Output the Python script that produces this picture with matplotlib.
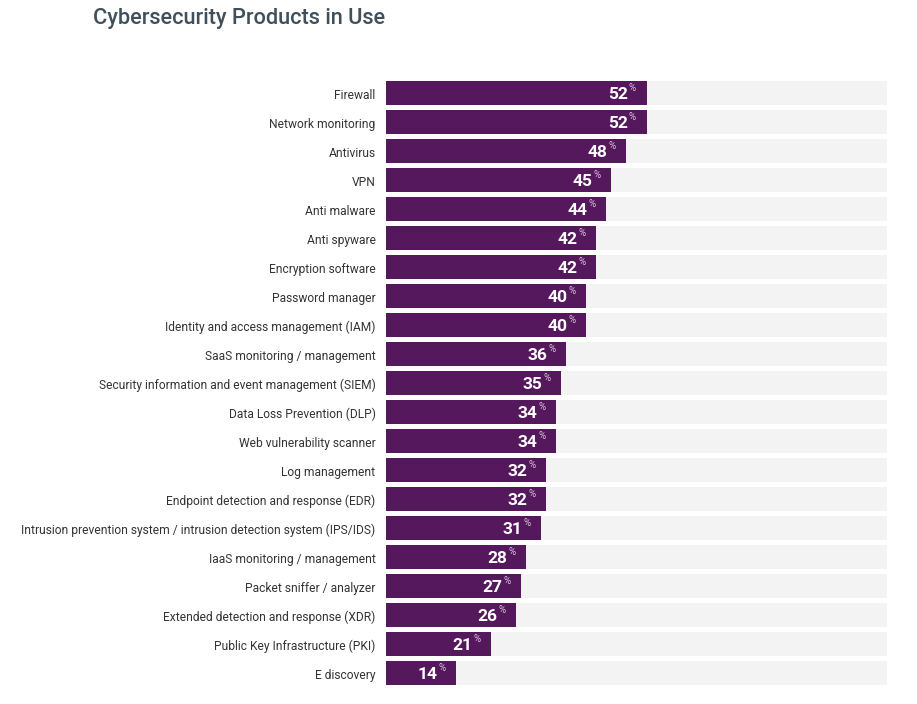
import matplotlib.pyplot as plt

# data
products = [
    "Firewall", "Network monitoring", "Antivirus", "VPN", "Anti malware",
    "Anti spyware", "Encryption software", "Password manager",
    "Identity and access management (IAM)", "SaaS monitoring / management",
    "Security information and event management (SIEM)",
    "Data Loss Prevention (DLP)", "Web vulnerability scanner",
    "Log management", "Endpoint detection and response (EDR)",
    "Intrusion prevention system / intrusion detection system (IPS/IDS)",
    "IaaS monitoring / management", "Packet sniffer / analyzer",
    "Extended detection and response (XDR)",
    "Public Key Infrastructure (PKI)", "E discovery",
]
values = [52, 52, 48, 45, 44, 42, 42, 40, 40, 36, 35, 34, 34, 32, 32, 31, 28, 27, 26, 21, 14]

plt.rcParams['font.family'] = ['Roboto', 'DejaVu Sans']

W, H = 917, 704
fig = plt.figure(figsize=(W / 100, H / 100), dpi=100)
ax = fig.add_axes([386 / W, 1 - 685 / H, (887 - 386) / W, (685 - 81) / H])

purple = '#55185d'
h = 24 / 29
ypos = list(range(len(products)))

ax.barh(ypos, [100] * len(values), height=h, color='#f3f3f3', zorder=1)
ax.barh(ypos, values, height=h, color=purple, zorder=2)

for y, v in zip(ypos, values):
    ax.annotate(str(v), xy=(v, y), xytext=(-13.5, -0.8), textcoords='offset points',
                ha='right', va='center', color='white', fontsize=12.5,
                fontweight='bold', zorder=3)
    ax.annotate('%', xy=(v, y), xytext=(-7.5, 3.4), textcoords='offset points',
                ha='right', va='center', color='#d9c8dc', fontsize=7, zorder=3)
    ax.annotate(products[y], xy=(0, y), xytext=(-7.5, -1.8), textcoords='offset points',
                ha='right', va='center', color='#333333', fontsize=8.65)

ax.set_xlim(0, 100)
ax.set_ylim(len(products) - 1 + h / 2, -h / 2)
ax.axis('off')

fig.text(93 / W, 1 - 18.5 / H, 'Cybersecurity Products in Use', ha='left', va='center',
         fontsize=15.7, color='#3f4f5b', fontweight='medium')

fig.savefig('out.png', dpi=100)
